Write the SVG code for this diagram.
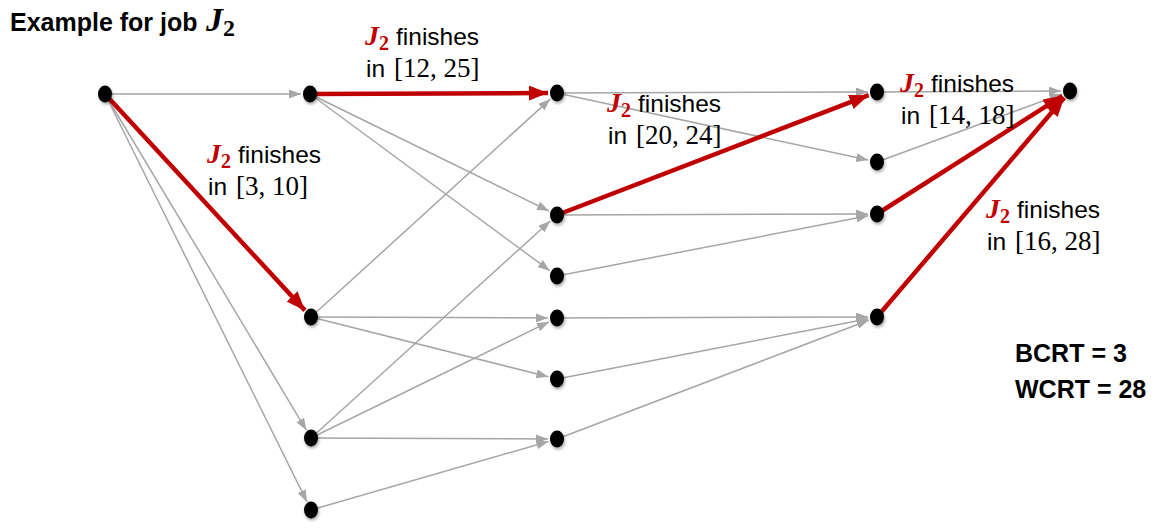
<svg xmlns="http://www.w3.org/2000/svg" width="1166" height="531" viewBox="0 0 1166 531">
<style>
.g{stroke:#a6a6a6;stroke-width:1.5;fill:none;marker-end:url(#ag)}
.r{stroke:#c00000;stroke-width:4.5;fill:none;marker-end:url(#ar)}
.n{fill:#000;filter:url(#sh)}
.t{font-family:"Liberation Sans",Arial,sans-serif;font-size:24.5px;fill:#000}
.m{font-family:"Liberation Serif","Times New Roman",serif;font-size:27px}
.mj{font-family:"Liberation Serif","Times New Roman",serif;font-weight:bold;font-style:italic;font-size:28px;fill:#c00000}
.ms{font-family:"Liberation Serif","Times New Roman",serif;font-weight:bold;font-size:20px;fill:#c00000}
.b{font-family:"Liberation Sans",Arial,sans-serif;font-weight:bold;font-size:25px;fill:#000}
</style>
<defs>
<marker id="ag" markerUnits="userSpaceOnUse" markerWidth="12" markerHeight="9" refX="12" refY="4.5" orient="auto"><path d="M0,0 L12,4.5 L0,9 z" fill="#a6a6a6"/></marker>
<marker id="ar" markerUnits="userSpaceOnUse" markerWidth="19" markerHeight="15" refX="19" refY="7.5" orient="auto"><path d="M0,0 L19,7.5 L0,15 z" fill="#c00000"/></marker>
<filter id="sh" x="-50%" y="-50%" width="200%" height="200%"><feDropShadow dx="1" dy="2" stdDeviation="1.5" flood-color="#000" flood-opacity="0.35"/></filter>
</defs>
<rect width="1166" height="531" fill="#fff"/>
<g id="connectors">
<line class="g" x1="105" y1="94" x2="301" y2="94"/>
<line class="g" x1="105" y1="94" x2="306.4" y2="430.3"/>
<line class="g" x1="105" y1="94" x2="307" y2="501.9"/>
<line class="g" x1="310" y1="94" x2="548.9" y2="211"/>
<line class="g" x1="310" y1="94" x2="549.8" y2="270.7"/>
<line class="g" x1="311" y1="317" x2="550.3" y2="99.1"/>
<line class="g" x1="311" y1="317" x2="548" y2="318"/>
<line class="g" x1="311" y1="317" x2="548.3" y2="376.8"/>
<line class="g" x1="311" y1="438" x2="550.3" y2="221"/>
<line class="g" x1="311" y1="438" x2="548.9" y2="321.9"/>
<line class="g" x1="311" y1="438" x2="548" y2="439"/>
<line class="g" x1="311" y1="510" x2="548.4" y2="441.5"/>
<line class="g" x1="557" y1="93" x2="868" y2="92"/>
<line class="g" x1="557" y1="93" x2="868.2" y2="160.1"/>
<line class="g" x1="557" y1="215" x2="868" y2="214"/>
<line class="g" x1="557" y1="276" x2="868.2" y2="215.7"/>
<line class="g" x1="557" y1="318" x2="868" y2="317"/>
<line class="g" x1="557" y1="379" x2="868.2" y2="318.7"/>
<line class="g" x1="557" y1="439" x2="868.6" y2="320.2"/>
<line class="g" x1="877" y1="92" x2="1061" y2="91"/>
<line class="g" x1="877" y1="162" x2="1061.5" y2="94.1"/>
<line class="r" x1="105" y1="94" x2="304.9" y2="310.4"/>
<line class="r" x1="310" y1="94" x2="548" y2="93"/>
<line class="r" x1="557" y1="215" x2="868.6" y2="95.2"/>
<line class="r" x1="877" y1="214" x2="1062.4" y2="95.8"/>
<line class="r" x1="877" y1="317" x2="1064.2" y2="97.8"/>
</g>
<g id="nA"><ellipse class="n" cx="105" cy="94" rx="7" ry="8.5"/></g>
<g id="nB"><ellipse class="n" cx="310" cy="94" rx="7" ry="8.5"/></g>
<g id="nC"><ellipse class="n" cx="311" cy="317" rx="7" ry="8.5"/></g>
<g id="nD"><ellipse class="n" cx="311" cy="438" rx="7" ry="8.5"/></g>
<g id="nE"><ellipse class="n" cx="311" cy="510" rx="7" ry="8.5"/></g>
<g id="nF"><ellipse class="n" cx="557" cy="93" rx="7" ry="8.5"/></g>
<g id="nG"><ellipse class="n" cx="557" cy="215" rx="7" ry="8.5"/></g>
<g id="nH"><ellipse class="n" cx="557" cy="276" rx="7" ry="8.5"/></g>
<g id="nI"><ellipse class="n" cx="557" cy="318" rx="7" ry="8.5"/></g>
<g id="nK"><ellipse class="n" cx="557" cy="379" rx="7" ry="8.5"/></g>
<g id="nL"><ellipse class="n" cx="557" cy="439" rx="7" ry="8.5"/></g>
<g id="nM"><ellipse class="n" cx="877" cy="92" rx="7" ry="8.5"/></g>
<g id="nN"><ellipse class="n" cx="877" cy="162" rx="7" ry="8.5"/></g>
<g id="nO"><ellipse class="n" cx="877" cy="214" rx="7" ry="8.5"/></g>
<g id="nP"><ellipse class="n" cx="877" cy="317" rx="7" ry="8.5"/></g>
<g id="nQ"><ellipse class="n" cx="1070" cy="91" rx="7" ry="8.5"/></g>
<g id="title">
<text class="b" x="10" y="31" font-size="26">Example for job <tspan font-family="Liberation Serif,serif" font-style="italic" font-size="34" x="206">J</tspan><tspan font-family="Liberation Serif,serif" font-size="24" dy="5">2</tspan></text>
</g>
<g id="labels">
<text class="t" x="365" y="45"><tspan class="mj">J</tspan><tspan class="ms" dy="5">2</tspan><tspan x="396" dy="-5">finishes</tspan></text>
<text class="t" x="366" y="77">in<tspan class="m" x="394">[12, 25]</tspan></text>
<text class="t" x="207" y="163"><tspan class="mj">J</tspan><tspan class="ms" dy="5">2</tspan><tspan x="238" dy="-5">finishes</tspan></text>
<text class="t" x="208" y="195">in<tspan class="m" x="236">[3, 10]</tspan></text>
<text class="t" x="607" y="112"><tspan class="mj">J</tspan><tspan class="ms" dy="5">2</tspan><tspan x="638" dy="-5">finishes</tspan></text>
<text class="t" x="608" y="144">in<tspan class="m" x="636">[20, 24]</tspan></text>
<text class="t" x="900" y="92"><tspan class="mj">J</tspan><tspan class="ms" dy="5">2</tspan><tspan x="931" dy="-5">finishes</tspan></text>
<text class="t" x="901" y="124">in<tspan class="m" x="929">[14, 18]</tspan></text>
<text class="t" x="986" y="218"><tspan class="mj">J</tspan><tspan class="ms" dy="5">2</tspan><tspan x="1017" dy="-5">finishes</tspan></text>
<text class="t" x="987" y="250">in<tspan class="m" x="1015">[16, 28]</tspan></text>
</g>
<g id="results">
<text class="b" x="1015" y="362">BCRT = 3</text>
<text class="b" x="1015" y="398">WCRT = 28</text>
</g>
</svg>
